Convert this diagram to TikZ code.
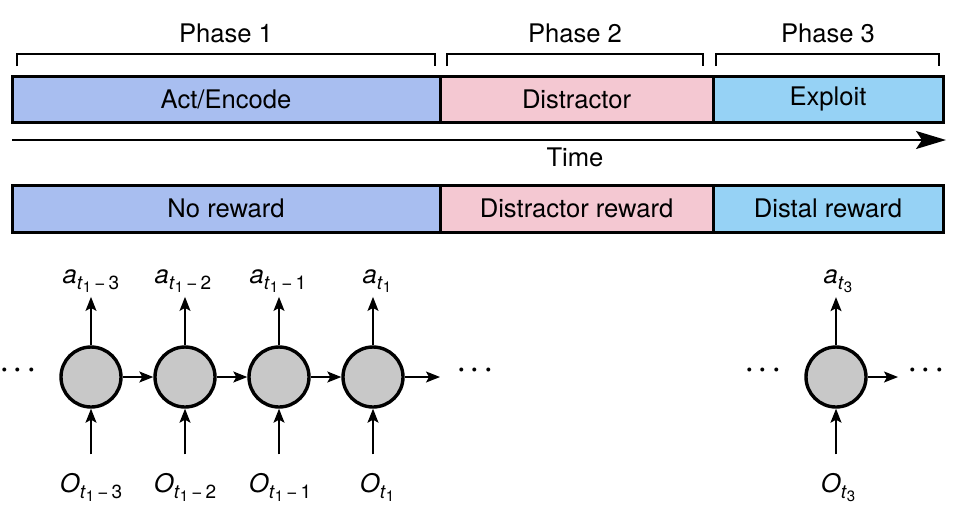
\documentclass[tikz,border=0pt]{standalone}
\usepackage{fontspec}
\setmainfont{TeX Gyre Heros}
\usetikzlibrary{arrows.meta,positioning}

\definecolor{encodeblue}{HTML}{A8BEF0}
\definecolor{distpink}{HTML}{F4C8D2}
\definecolor{exploitblue}{HTML}{96D2F5}
\definecolor{cellgray}{HTML}{C8C8C8}
\newcommand{\seqlab}[3]{\textit{#1}\raisebox{-0.45ex}{\fontsize{9.5}{10}\selectfont\textit{t}\raisebox{-0.35ex}{\fontsize{7.5}{8}\selectfont #2}#3}}

\begin{document}
\begin{tikzpicture}[x=0.5pt,y=-0.5pt,>={Stealth[length=7pt,width=5.5pt,inset=1.5pt]},
    font=\fontsize{12.8}{15}\selectfont,node distance=47pt,
    bar/.style={draw,line width=1.5pt},
    brace/.style={draw,line width=0.6pt},
    cell/.style={circle,draw,line width=1.7pt,fill=cellgray,minimum size=30pt,inner sep=0pt},
    lab/.style={anchor=base,inner sep=2pt},
    dots/.style={font=\fontsize{19}{20}\selectfont},
    link/.style={->,line width=0.7pt}]

  \useasboundingbox (0,0) rectangle (972,510);

  % phases
  \node (p1) at (226,33) {Phase 1};
  \node (p2) at (575,33) {Phase 2};
  \node (p3) at (828,33) {Phase 3};
  \draw[brace] (17,66) |- (435,54) -- (435,66);
  \draw[brace] (447,66) |- (703,54) -- (703,66);
  \draw[brace] (716,66) |- (939,54) -- (939,66);

  \draw[bar,fill=encodeblue] (12,76) rectangle node (enc) {Act/Encode} (440,122);
  \draw[bar,fill=distpink] (440,76) rectangle node (dis) {Distractor} (713,122);
  \draw[bar,fill=exploitblue] (713,76) rectangle node (expl) {Exploit} (943,122);

  % time axis
  \coordinate (t0) at (12,140);
  \coordinate (t1) at (946,140);
  \draw[-{Stealth[length=15pt,width=9pt,inset=3pt]},line width=0.8pt] (t0) -- (t1);
  \node (time) at (575,157) {Time};

  \draw[bar,fill=encodeblue] (12,185) rectangle node (nor) {No reward} (440,232);
  \draw[bar,fill=distpink] (440,185) rectangle node (dir) {Distractor reward} (713,232);
  \draw[bar,fill=exploitblue] (713,185) rectangle node (dsr) {Distal reward} (943,232);

  % recurrent cells
  \node[cell] (c1) at (91,377) {};
  \node[cell] (c2) [right of=c1] {};
  \node[cell] (c3) [right of=c2] {};
  \node[cell] (c4) [right of=c3] {};
  \node[cell] (c5) at (836,377) {};
  \coordinate (e4) at (440,377);
  \coordinate (e5) at (898,377);

  \node[lab] (a1) at (91,283) {\seqlab{a}{1}{\,−\,3}};
  \node[lab] (a2) at (183,283) {\seqlab{a}{1}{\,−\,2}};
  \node[lab] (a3) at (278,283) {\seqlab{a}{1}{\,−\,1}};
  \node[lab] (a4) at (377,283) {\seqlab{a}{1}{}};
  \node[lab] (a5) at (838,283) {\seqlab{a}{3}{}};

  \node[lab] (o1) at (91,492) {\seqlab{O}{1}{\,−\,3}};
  \node[lab] (o2) at (185,492) {\seqlab{O}{1}{\,−\,2}};
  \node[lab] (o3) at (280,492) {\seqlab{O}{1}{\,−\,1}};
  \node[lab] (o4) at (377,492) {\seqlab{O}{1}{}};
  \node[lab] (o5) at (838,492) {\seqlab{O}{3}{}};

  \node[dots] (d0) at (18,374) {·\hspace{1.5pt}·\hspace{1.5pt}·};
  \node[dots] (d4) at (475,374) {·\hspace{1.5pt}·\hspace{1.5pt}·};
  \node[dots] (d5) at (763,374) {·\hspace{1.5pt}·\hspace{1.5pt}·};
  \node[dots] (d6) at (926,374) {·\hspace{1.5pt}·\hspace{1.5pt}·};

  \draw[link] (c1) -- (c2);
  \draw[link] (c2) -- (c3);
  \draw[link] (c3) -- (c4);
  \draw[link] (c4) -- (e4);
  \draw[link] (c5) -- (e5);

  \draw[link] (c1) -- (c1 |- a1.south);
  \draw[link] (c2) -- (c2 |- a2.south);
  \draw[link] (c3) -- (c3 |- a3.south);
  \draw[link] (c4) -- (c4 |- a4.south);
  \draw[link] (c5) -- (c5 |- a5.south);

  \draw[link,shorten <=7pt] (c1 |- o1.north) -- (c1);
  \draw[link,shorten <=7pt] (c2 |- o2.north) -- (c2);
  \draw[link,shorten <=7pt] (c3 |- o3.north) -- (c3);
  \draw[link,shorten <=7pt] (c4 |- o4.north) -- (c4);
  \draw[link,shorten <=7pt] (c5 |- o5.north) -- (c5);
\end{tikzpicture}
\end{document}
